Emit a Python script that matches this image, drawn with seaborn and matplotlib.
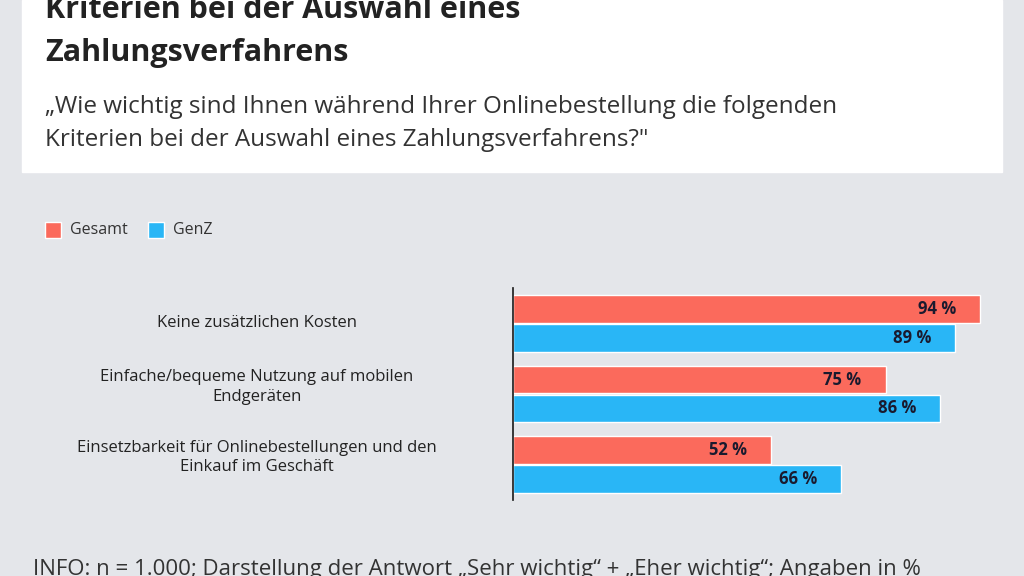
import matplotlib
matplotlib.use("Agg")
import matplotlib.pyplot as plt
import matplotlib.patches as mpatches
import matplotlib.transforms as mtrans
import seaborn as sns
import pandas as pd

sns.set_theme(style="white")
plt.rcParams['font.family'] = ['Open Sans', 'DejaVu Sans']

categories = ["Keine zusätzlichen Kosten",
              "Einfache/bequeme Nutzung auf mobilen\nEndgeräten",
              "Einsetzbarkeit für Onlinebestellungen und den\nEinkauf im Geschäft"]
gesamt = [94, 75, 52]
genz = [89, 86, 66]
series = ["Gesamt", "GenZ"]
colors = ["#fb6a5c", "#29b6f6"]

df = pd.DataFrame({
    "cat": categories * 2,
    "val": gesamt + genz,
    "group": [series[0]] * 3 + [series[1]] * 3,
})

bg = "#e4e6ea"
fig = plt.figure(figsize=(10.24, 5.76), dpi=100, facecolor=bg)

# header box
fig.patches.append(mpatches.Rectangle((22 / 1024, 1 - 172 / 576), 980 / 1024, 172 / 576,
                                      transform=fig.transFigure, facecolor="white", zorder=0))
fig.text(45 / 1024, 1 - 10 / 576, "Kriterien bei der Auswahl eines", fontsize=22, fontweight="bold",
         color="#222222", va="center")
fig.text(45 / 1024, 1 - 53 / 576, "Zahlungsverfahrens", fontsize=22, fontweight="bold",
         color="#222222", va="center")
fig.text(45 / 1024, 1 - 107 / 576, "„Wie wichtig sind Ihnen während Ihrer Onlinebestellung die folgenden",
         fontsize=17.5, color="#333333", va="center")
fig.text(45 / 1024, 1 - 140 / 576, "Kriterien bei der Auswahl eines Zahlungsverfahrens?\"",
         fontsize=17.5, color="#333333", va="center")

# legend
for x, lab, c in [(45, series[0], colors[0]), (148, series[1], colors[1])]:
    fig.patches.append(mpatches.Rectangle((x / 1024, 1 - 238 / 576), 16 / 1024, 16 / 576,
                                          transform=fig.transFigure, facecolor=c))
    fig.text((x + 25) / 1024, 1 - 230 / 576, lab, fontsize=11.5, color="#333333", va="center")

fig.text(33 / 1024, 1 - 570 / 576,
         "INFO: n = 1.000; Darstellung der Antwort „Sehr wichtig“ + „Eher wichtig“; Angaben in %",
         fontsize=16, color="#333333", va="center")

ax = fig.add_axes([513 / 1024, 1 - 500 / 576, 497 / 1024, 212 / 576])
ax.set_facecolor(bg)
sns.barplot(data=df, y="cat", x="val", hue="group", palette=colors, orient="h",
            width=0.82, gap=0.05, saturation=1, legend=False, ax=ax)
ax.set_xlim(0, 100)
ax.set_xticks([])
ax.set_xlabel("")
ax.set_ylabel("")
ax.set_yticklabels([])
for s in ["top", "right", "bottom"]:
    ax.spines[s].set_visible(False)
ax.spines["left"].set_color("#222222")
ax.tick_params(axis="y", length=0)
trans = mtrans.blended_transform_factory(fig.transFigure, ax.transData)
for i, cat in enumerate(categories):
    ax.text(257 / 1024, i - 0.1 if "\n" in cat else i, cat, transform=trans, ha="center",
            va="center", fontsize=12, color="#222222", linespacing=1.3)
for cont in ax.containers:
    ax.bar_label(cont, labels=[f"{int(v)} %" for v in cont.datavalues], padding=-45,
                 fontsize=12, fontweight="bold", color="#1a1a2e")

fig.savefig("out.png", dpi=100, facecolor=bg)
